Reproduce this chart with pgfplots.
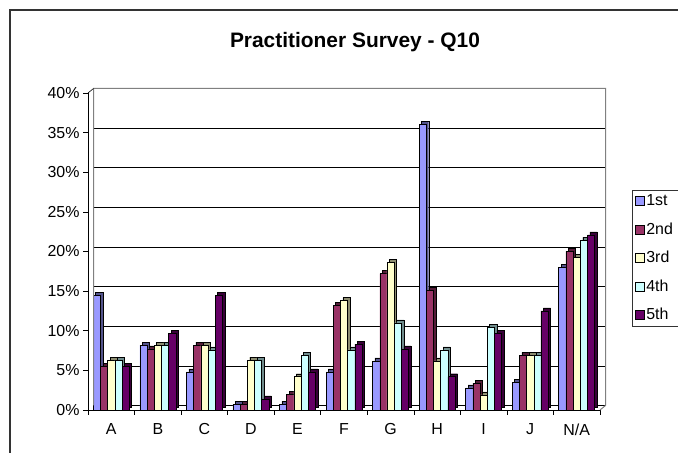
\documentclass[border=0pt]{standalone}
\usepackage{pgfplots}
\usepackage{pgfplotstable}
\pgfplotsset{compat=1.18}
\usepackage{fontspec}
\setmainfont{Liberation Sans}
\definecolor{cA}{HTML}{9999FF}
\definecolor{cB}{HTML}{993366}
\definecolor{cC}{HTML}{FFFFCC}
\definecolor{cD}{HTML}{CCFFFF}
\definecolor{cE}{HTML}{660066}
\pgfplotstableread{
x s1 s2 s3 s4 s5
0 14.5 5.5 6.3 6.3 5.5
1 8.2 7.7 8.2 8.2 9.7
2 4.8 8.2 8.2 7.6 14.5
3 0.7 0.7 6.3 6.3 1.4
4 0.7 2.0 4.2 6.9 4.8
5 4.8 13.2 13.8 7.6 8.3
6 6.2 17.2 18.6 11.0 7.7
7 36.0 15.1 6.2 7.6 4.2
8 2.8 3.4 1.9 10.4 9.7
9 3.5 6.9 6.9 6.9 12.5
10 18.0 20.0 19.3 21.4 22.1
}\data
\pgfplotsset{
  myleg/.style={legend image code/.code={\draw[##1,draw=black,line width=0.5bp] (0bp,-4.5bp) rectangle (9bp,4.5bp);}},
  depth/.style={draw=black,line width=0.4bp,yshift=3bp,forget plot},
  front/.style={draw=black,line width=0.5bp,myleg},
}
\begin{document}
\begin{tikzpicture}[x=1bp,y=1bp]
\clip (0,0) rectangle (678,453);
\fill[white] (0,0) rectangle (678,453);
\draw[line width=1.5bp, black!80] (10,-20) -- (10,443) -- (700,443);
\node[font=\bfseries\fontsize{21}{25}\selectfont] at (355,411) {Practitioner Survey - Q10};
\begin{axis}[
  at={(88bp,43bp)}, anchor=south west, scale only axis,
  width=512bp, height=317bp,
  xmin=-0.5, xmax=10.5, ymin=0, ymax=40,
  axis x line*=bottom, axis y line*=left,
  axis line style={black,line width=0.8bp},
  ybar=0pt, bar width=7.2bp,
  ytick={0,5,...,40},
  yticklabel={\pgfmathprintnumber[assume math mode=true]{\tick}\%},
  xtick={-0.5,0.5,...,10.5},
  xticklabels={A,B,C,D,E,F,G,H,I,J,N/A},
  x tick label as interval,
  xticklabel style={yshift=-5bp},
  tick align=outside, major tick length=5bp,
  tick style={black,line width=0.6bp},
  ymajorgrids,
  major grid style={black,line width=0.7bp,xshift=5.5bp,yshift=4.5bp},
  tick label style={font=\fontsize{16}{19}\selectfont},
  legend cell align=left,
  legend style={overlay,at={(1.0625,0.694)},anchor=north west,draw=black!80,line width=0.7bp,
    font=\fontsize{16}{19}\selectfont, row sep=12.5bp, inner sep=3bp,
    nodes={inner sep=1.5bp, text width=40bp}},
  clip=false,
]
\addplot[depth,fill=cA!55!black,bar shift=-12.0bp] table[x=x,y=s1]{\data};
\addplot[front,fill=cA,bar shift=-14.4bp] table[x=x,y=s1]{\data};
\addplot[depth,fill=cB!55!black,bar shift=-4.8bp] table[x=x,y=s2]{\data};
\addplot[front,fill=cB,bar shift=-7.2bp] table[x=x,y=s2]{\data};
\addplot[depth,fill=cC!55!black,bar shift=2.4bp] table[x=x,y=s3]{\data};
\addplot[front,fill=cC,bar shift=0bp] table[x=x,y=s3]{\data};
\addplot[depth,fill=cD!55!black,bar shift=9.6bp] table[x=x,y=s4]{\data};
\addplot[front,fill=cD,bar shift=7.2bp] table[x=x,y=s4]{\data};
\addplot[depth,fill=cE!55!black,bar shift=16.8bp] table[x=x,y=s5]{\data};
\addplot[front,fill=cE,bar shift=14.4bp] table[x=x,y=s5]{\data};
\legend{1st,2nd,3rd,4th,5th}
\draw[gray,line width=1bp] ([shift={(5.5bp,4.5bp)}]rel axis cs:0,0) -- ([shift={(5.5bp,4.5bp)}]rel axis cs:0,1) -- ([shift={(5.5bp,4.5bp)}]rel axis cs:1,1) -- ([shift={(5.5bp,4.5bp)}]rel axis cs:1,0) -- (rel axis cs:1,0);
\draw[black,line width=0.6bp] (rel axis cs:0,1) -- ([shift={(5.5bp,4.5bp)}]rel axis cs:0,1);
\end{axis}
\end{tikzpicture}
\end{document}
